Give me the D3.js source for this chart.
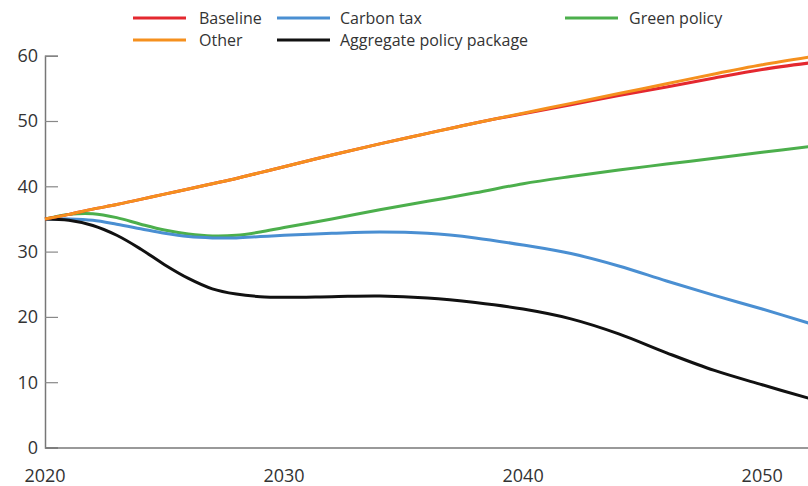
<!DOCTYPE html>
<html><head><meta charset="utf-8">
<script src="https://cdn.jsdelivr.net/npm/d3@7"></script>
<style>
html,body{margin:0;padding:0;background:#fff;}
svg{display:block;}
text{font-family:"Open Sans","Noto Sans",sans-serif;fill:#333;}
</style></head>
<body>
<svg id="chart" width="808" height="486"></svg>
<script>
const years = [2020,2021,2022,2023,2024,2025,2026,2027,2028,2029,2030,2032,2034,2036,2038,2040,2042,2044,2046,2048,2050,2052];
const baseline = [35,35.7,36.5,37.2,38,38.8,39.6,40.4,41.2,42.1,43,44.8,46.5,48.1,49.7,51.1,52.5,53.9,55.2,56.6,57.9,58.9];
const other    = [35,35.7,36.5,37.2,38,38.8,39.6,40.4,41.2,42.1,43,44.8,46.5,48.1,49.7,51.2,52.7,54.2,55.7,57.2,58.6,59.8];
const carbonTax= [35,35.0,34.8,34.2,33.5,32.8,32.3,32.1,32.1,32.3,32.5,32.8,33.0,32.8,32.1,31.0,29.7,27.8,25.5,23.3,21.2,19.0];
const green    = [35,35.7,35.8,35.2,34.2,33.3,32.7,32.4,32.5,33.0,33.7,35.0,36.4,37.7,39.0,40.4,41.5,42.5,43.4,44.3,45.2,46.1];
const aggregate= [35,34.8,34.0,32.5,30.4,28.0,25.9,24.3,23.5,23.1,23.0,23.1,23.2,22.9,22.2,21.2,19.7,17.4,14.5,11.8,9.6,7.5];
const yTicks = [0,10,20,30,40,50,60];
const xTicks = [2020,2030,2040,2050];

const seriesNames = ["Baseline","Other","Carbon tax","Aggregate policy package","Green policy"];
const seriesColors = ["#e4282f","#f5901e","#4a8fd2","#111111","#4caf4c"];
const seriesData = [baseline, other, carbonTax, aggregate, green];

const svg = d3.select("#chart");
const x = d3.scaleLinear().domain([2020,2052]).range([45,810]);
const y = d3.scaleLinear().domain([0,60]).range([447.5,55.7]);

// axes
const yAxis = d3.axisRight(y).tickValues(yTicks).tickSize(13).tickFormat("");
const gy = svg.append("g").attr("transform","translate(45,0)").call(yAxis);
gy.select(".domain").attr("stroke","#777").attr("stroke-width",1.5);
gy.selectAll(".tick line").attr("stroke","#888").attr("stroke-width",1.2);

svg.append("g").selectAll("text").data(yTicks).join("text")
  .attr("x",38).attr("y",d=>y(d)).attr("dy","0.36em")
  .attr("text-anchor","end").attr("font-size",18).text(d=>d);

const xAxis = d3.axisBottom(x).tickValues(xTicks).tickSize(0).tickFormat("");
const gx = svg.append("g").attr("transform",`translate(0,${y(0)})`).call(xAxis);
gx.select(".domain").attr("stroke","#777").attr("stroke-width",1.5);

svg.append("g").selectAll("text").data(xTicks).join("text")
  .attr("x",d=>x(d)).attr("y",482)
  .attr("text-anchor","middle").attr("font-size",18).text(d=>d);

// lines
const line = d3.line().x((d,i)=>x(years[i])).y(d=>y(d)).curve(d3.curveCatmullRom.alpha(0.5));
const drawOrder = [4,2,3,0,1];
svg.append("g").selectAll("path").data(drawOrder).join("path")
  .attr("d",i=>line(seriesData[i]))
  .attr("fill","none").attr("stroke",i=>seriesColors[i])
  .attr("stroke-width",3).attr("stroke-linejoin","round");

// legend
const legendPos = [
  {lx:133, tx:199, y:18},
  {lx:133, tx:199, y:40},
  {lx:277, tx:340, y:18},
  {lx:277, tx:340, y:40},
  {lx:565, tx:629, y:18}
];
const lg = svg.append("g");
seriesNames.forEach((n,i)=>{
  const p = legendPos[i];
  lg.append("line").attr("x1",p.lx).attr("x2",p.lx+53).attr("y1",p.y).attr("y2",p.y)
    .attr("stroke",seriesColors[i]).attr("stroke-width",3);
  lg.append("text").attr("x",p.tx).attr("y",p.y).attr("dy","0.36em")
    .attr("font-size",16).text(n);
});
</script>
</body></html>
